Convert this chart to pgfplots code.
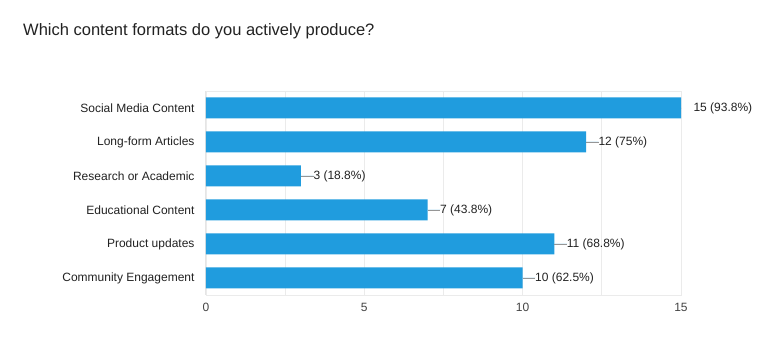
\documentclass[border=0pt]{standalone}
\usepackage{fontspec}
\setmainfont{Liberation Sans}
\usepackage{pgfplots}
\pgfplotsset{compat=1.18}
\definecolor{barblue}{RGB}{32,156,222}
\definecolor{gridgray}{RGB}{235,235,235}
\definecolor{txt}{RGB}{34,34,34}
\definecolor{tick}{RGB}{68,68,68}
\definecolor{conn}{RGB}{150,150,150}
\begin{document}
\begin{tikzpicture}[x=1pt,y=1pt]
\fill[white] (0,0) rectangle (764,353);
\node[anchor=west, inner sep=0pt, font=\fontsize{16.5}{19}\selectfont, text=txt] at (23,322) {Which content formats do you actively produce?};
\begin{axis}[
  at={(206pt,58pt)}, anchor=south west,
  scale only axis, width=475pt, height=204pt,
  xbar, bar width=21pt,
  xmin=0, xmax=15, ymin=-0.5, ymax=5.5,
  ytick={0,...,5},
  yticklabels={Community Engagement, Product updates, Educational Content, Research or Academic, Long-form Articles, Social Media Content},
  xtick={0,5,10,15}, minor xtick={2.5,7.5,12.5},
  xmajorgrids, xminorgrids,
  grid style={draw=gridgray, line width=0.8pt},
  minor grid style={draw=gridgray, line width=0.8pt},
  axis line style={draw=gridgray, line width=0.8pt},
  major tick length=0pt, minor tick length=0pt,
  tick label style={font=\fontsize{12}{14}\selectfont, text=tick},
  yticklabel style={text=txt, xshift=-8pt},
  xticklabel style={yshift=-5pt},
  /pgf/number format/assume math mode=true,
  point meta=explicit symbolic,
  nodes near coords,
  every node near coord/.append style={anchor=west, xshift=9pt, font=\fontsize{12}{14}\selectfont, text=txt},
]
\addplot[fill=barblue, draw=none,
  error bars/.cd, x dir=plus, x fixed=0.4,
  error bar style={draw=conn, line width=0.8pt}, error mark=none]
  table[col sep=comma, row sep=\\, x=v, y=y, meta=lab] {
y,v,lab\\
0,10,10 (62.5\%)\\
1,11,11 (68.8\%)\\
2,7,7 (43.8\%)\\
3,3,3 (18.8\%)\\
4,12,12 (75\%)\\
5,15,15 (93.8\%)\\
};
\draw[draw=black!80, line width=1pt] (axis cs:0,-0.5) -- (axis cs:0,5.5);
\end{axis}
\end{tikzpicture}
\end{document}
